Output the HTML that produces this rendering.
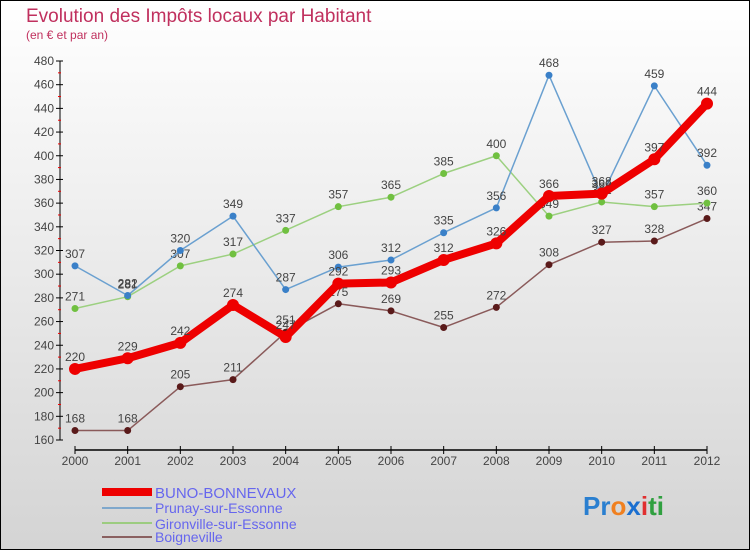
<!DOCTYPE html>
<html><head><meta charset="utf-8"><style>
body{margin:0}
#c{width:750px;height:550px;position:relative;font-family:"Liberation Sans",sans-serif}
</style></head><body>
<div id="c">
<svg width="750" height="550" id="svg">
<defs><linearGradient id="bg" x1="0" y1="0" x2="0" y2="1"><stop offset="0" stop-color="#ffffff"/><stop offset="1" stop-color="#d4d4d4"/></linearGradient></defs>
<rect x="0.5" y="0.5" width="749" height="549" fill="url(#bg)" stroke="#000"/>
<text x="26" y="22" font-size="19" fill="#c0305e">Evolution des Impôts locaux par Habitant</text>
<text x="26" y="39" font-size="12" fill="#c0305e">(en € et par an)</text>
<g id="axes"></g><g id="series"></g>
<g>
<line x1="102" y1="492" x2="152" y2="492" stroke="#ee0000" stroke-width="8"/>
<text x="155" y="498" font-size="15" fill="#6666ee">BUNO-BONNEVAUX</text>
<line x1="102" y1="508" x2="152" y2="508" stroke="#7fa8cc" stroke-width="2"/>
<text x="155" y="513" font-size="14" fill="#6666ee">Prunay-sur-Essonne</text>
<line x1="102" y1="523" x2="152" y2="523" stroke="#9ccc80" stroke-width="2"/>
<text x="155" y="529" font-size="14" fill="#6666ee">Gironville-sur-Essonne</text>
<line x1="102" y1="537" x2="152" y2="537" stroke="#8a6060" stroke-width="2"/>
<text x="155" y="542" font-size="14" fill="#6666ee">Boigneville</text>
</g>
<text x="583" y="515" font-size="26" font-weight="bold"><tspan fill="#2a7fd0">Pr</tspan><tspan fill="#f08020">o</tspan><tspan fill="#1a6fd0">x</tspan><tspan fill="#e03030">i</tspan><tspan fill="#30a040">ti</tspan></text>
</svg></div>
<script>
const years=[2000,2001,2002,2003,2004,2005,2006,2007,2008,2009,2010,2011,2012];
const yTicks=[160,180,200,220,240,260,280,300,320,340,360,380,400,420,440,460,480];
const buno=[220,229,242,274,247,292,293,312,326,366,368,397,444];
const prunay=[307,282,320,349,287,306,312,335,356,468,366,459,392];
const gironville=[271,281,307,317,337,357,365,385,400,349,361,357,360];
const boigneville=[168,168,205,211,251,275,269,255,272,308,327,328,347];
const NS="http://www.w3.org/2000/svg";
const X=i=>75+i*(707-75)/12;
const Y=v=>440-(v-160)*(440-61)/320;
function mk(t,a,p){const e=document.createElementNS(NS,t);for(const k in a)e.setAttribute(k,a[k]);p.appendChild(e);return e;}
const ax=document.getElementById('axes');
let yl=mk('line',{x1:60,y1:Y(480),x2:60,y2:Y(160),stroke:'#000'},ax);


yTicks.forEach(v=>{
 mk('line',{x1:56,y1:Y(v),x2:63,y2:Y(v),stroke:'#000'},ax);
 const t=mk('text',{x:54,y:Y(v)+4,'font-size':12,fill:'#444','text-anchor':'end'},ax);
 t.textContent=v;
 
 
 if(v<480)mk('line',{x1:58,y1:Y(v+10),x2:61,y2:Y(v+10),stroke:'#e00'},ax);
});
let xl=mk('line',{x1:X(0),y1:450,x2:X(12),y2:450,stroke:'#000','stroke-width':1.5},ax);


years.forEach((y,i)=>{
 mk('line',{x1:X(i),y1:446,x2:X(i),y2:454,stroke:'#000'},ax);
 const t=mk('text',{x:X(i),y:465,'font-size':12,fill:'#444','text-anchor':'middle'},ax);
 t.textContent=y;
 
 
});
const sg=document.getElementById('series');
function draw(data,color,w,r,dot,name){
 const g=mk('g',{},sg);
 
 
 const p=mk('polyline',{points:data.map((v,i)=>X(i)+','+Y(v)).join(' '),fill:'none',stroke:color,'stroke-width':w,'stroke-linejoin':'round'},g);
 
 
 data.forEach((v,i)=>{
  const c=mk('circle',{cx:X(i),cy:Y(v),r:r,fill:dot},g);
  
  
  const t=mk('text',{x:X(i),y:Y(v)-8,'font-size':12,fill:'#444','text-anchor':'middle'},g);
  t.textContent=v;
  
  
 });
}
draw(boigneville,'#8a5a5a',1.5,3.5,'#5a1a1a','boigneville');
draw(gironville,'#9cd080',1.5,3.5,'#70c040','gironville');
draw(prunay,'#6aa0d0',1.5,3.5,'#3a80c8','prunay');
draw(buno,'#ee0000',8,6,'#ee0000','buno');
</script>
</body></html>
